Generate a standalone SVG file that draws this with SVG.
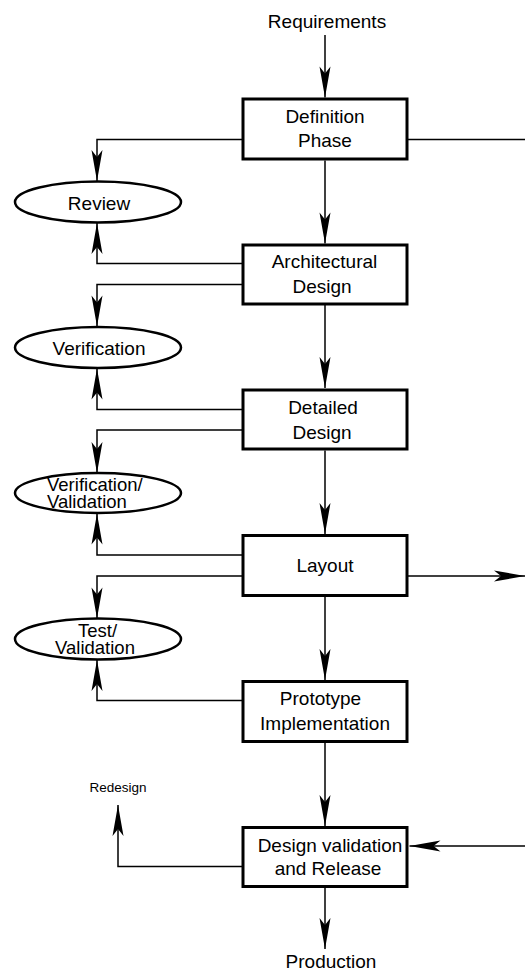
<svg xmlns="http://www.w3.org/2000/svg" width="525" height="971" viewBox="0 0 525 971">
<style>
text{font-family:"Liberation Sans",Arial,sans-serif;font-size:19px;fill:#000;text-anchor:middle}
.box{fill:#fff;stroke:#000;stroke-width:3}
.ell{fill:#fff;stroke:#000;stroke-width:2.5}
.c{fill:none;stroke:#000;stroke-width:1.5;marker-end:url(#ah)}
.n{fill:none;stroke:#000;stroke-width:1.5}
.small{font-size:13.5px}
.tight{font-size:18.5px}
</style>
<defs>
<marker id="ah" markerUnits="userSpaceOnUse" orient="auto" viewBox="-32 -6 33 12" refX="0" refY="0" markerWidth="33" markerHeight="12">
<path d="M0,0 L-31,-5.5 L-24,0 L-31,5.5 Z" fill="#000"/>
</marker>
</defs>
<g id="connectors">
<path class="c" d="M325,35 V97.5"/>
<path class="c" d="M242,139.5 H97 V181"/>
<path class="n" d="M408,139.5 H525"/>
<path class="c" d="M325,160.5 V243.5"/>
<path class="c" d="M242,263.5 H97 V223"/>
<path class="c" d="M242,284.5 H97 V326.5"/>
<path class="c" d="M325,305 V388"/>
<path class="c" d="M242,409.5 H97 V368.5"/>
<path class="c" d="M242,430 H97 V473"/>
<path class="c" d="M325,450.5 V534"/>
<path class="c" d="M242,555 H97 V513.5"/>
<path class="c" d="M242,576 H97 V618.5"/>
<path class="c" d="M408,576 H525"/>
<path class="c" d="M325,597 V680"/>
<path class="c" d="M242,700.5 H97 V660"/>
<path class="c" d="M325,743 V826"/>
<path class="c" d="M242,866.5 H118 V805"/>
<path class="c" d="M525,846 H409.5"/>
<path class="c" d="M325,888 V949"/>
</g>
<g id="requirements"><text x="327" y="27.7">Requirements</text></g>
<g id="definition">
<rect class="box" x="243" y="99" width="164" height="60"/>
<text x="325" y="123.3">Definition</text>
<text x="325" y="147">Phase</text>
</g>
<g id="review">
<ellipse class="ell" cx="98" cy="202" rx="83" ry="20.5"/>
<text x="99" y="210">Review</text>
</g>
<g id="architectural">
<rect class="box" x="243" y="245" width="164" height="59"/>
<text x="324.5" y="268.3">Architectural</text>
<text x="322" y="292.7">Design</text>
</g>
<g id="verification">
<ellipse class="ell" cx="98" cy="347.5" rx="83" ry="20.5"/>
<text x="99" y="355">Verification</text>
</g>
<g id="detailed">
<rect class="box" x="243" y="390" width="164" height="59"/>
<text x="323" y="414">Detailed</text>
<text x="322" y="439">Design</text>
</g>
<g id="verval">
<ellipse class="ell" cx="98" cy="493" rx="83" ry="20"/>
<text class="tight" x="47" y="491" style="text-anchor:start">Verification/</text>
<text class="tight" x="47" y="508" style="text-anchor:start">Validation</text>
</g>
<g id="layout">
<rect class="box" x="243" y="535.5" width="164" height="60"/>
<text x="325" y="571.7">Layout</text>
</g>
<g id="testval">
<ellipse class="ell" cx="98" cy="639" rx="83" ry="20.5"/>
<text class="tight" x="97.5" y="636.5">Test/</text>
<text class="tight" x="95" y="654">Validation</text>
</g>
<g id="prototype">
<rect class="box" x="243" y="681.5" width="164" height="60"/>
<text x="320.5" y="705">Prototype</text>
<text x="325" y="730">Implementation</text>
</g>
<g id="redesign"><text class="small" x="118" y="791.5">Redesign</text></g>
<g id="designvalidation">
<rect class="box" x="243" y="827.5" width="164" height="59"/>
<text x="330" y="851.7">Design validation</text>
<text x="328" y="875">and Release</text>
</g>
<g id="production"><text x="331" y="967.5">Production</text></g>
</svg>
